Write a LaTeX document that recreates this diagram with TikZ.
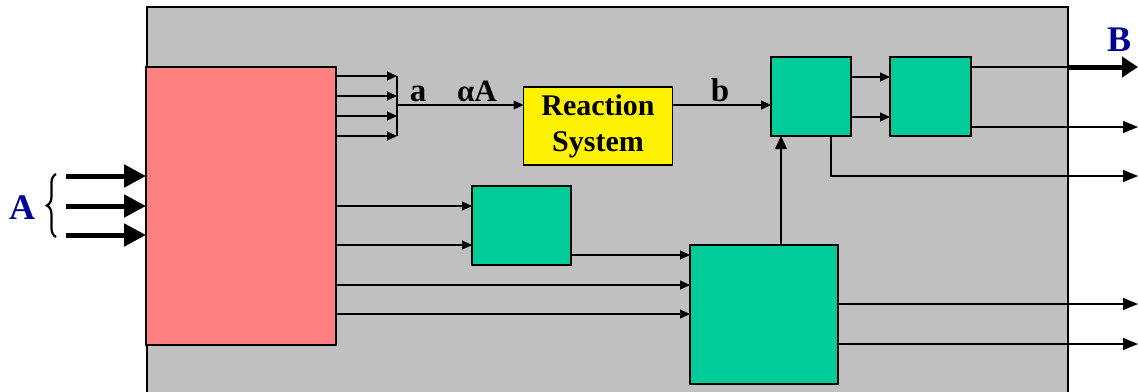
\documentclass[tikz,border=0pt]{standalone}
\usepackage{fontspec}
\setmainfont{Liberation Serif}
\usetikzlibrary{arrows.meta,decorations.pathreplacing,calc}
\definecolor{panelgray}{HTML}{C0C0C0}
\definecolor{blockpink}{HTML}{FF8080}
\definecolor{blockgreen}{HTML}{00CC99}
\definecolor{labelblue}{HTML}{000099}

\begin{document}
\begin{tikzpicture}[x=1pt, y=-1pt, line join=miter,
  block/.style={draw=black, line width=1.5pt, inner sep=0pt, outer sep=0pt},
  arr/.style={line width=1.2pt, -{Triangle[length=10pt,width=9pt]}},
  outarr/.style={line width=1.2pt, -{Triangle[length=15pt,width=12pt]}},
  fatarr/.style={line width=5pt, -{Triangle[length=22pt,width=22pt]}},
  biglabel/.style={font=\fontsize{36}{40}\selectfont\bfseries, text=labelblue},
  flowlabel/.style={font=\fontsize{33}{38}\selectfont\bfseries, anchor=base}]
\clip (0,0) rectangle (1138,391);
% grey system boundary
\draw[fill=panelgray, line width=1.5pt] (147,7) rectangle (1068,400);

% blocks
\node[block, fill=blockpink, minimum width=190pt, minimum height=278pt] (src) at (241,206) {};
\node[block, fill=yellow, minimum width=149pt, minimum height=78pt, align=center,
      font=\fontsize{30}{36}\selectfont\bfseries] (rs) at (598,126) {Reaction\\System};
\node[block, fill=blockgreen, minimum width=80pt, minimum height=79pt] (mixa) at (811,96.5) {};
\node[block, fill=blockgreen, minimum width=81pt, minimum height=79pt] (mixb) at (930.5,96.5) {};
\node[block, fill=blockgreen, minimum width=99pt, minimum height=79pt] (pre) at (521.5,225.5) {};
\node[block, fill=blockgreen, minimum width=148pt, minimum height=139pt] (proc) at (764,314.5) {};

% feed A
\foreach \yy [count=\i] in {176,206,235} {
  \coordinate (in\i) at (66,\yy);
  \draw[fatarr] (in\i) -- (src.west |- in\i);
}
\draw[line width=2.2pt, decorate, decoration={brace, amplitude=9pt}] (56,237) -- (56,174);
\node[biglabel] (lblA) at (22,208) {A};

% collecting bus towards the reactor
\foreach \yy [count=\i] in {76,96,116,136} {
  \coordinate (bus\i) at (397,\yy);
  \draw[arr] (src.east |- bus\i) -- (bus\i);
}
\draw[line width=1.2pt] (bus1) -- (bus4);
\coordinate (busout) at (397,105);
\draw[arr] (busout) -- (rs.west |- busout);
\node[flowlabel] (lbla) at (418,101) {a};
\node[flowlabel, font=\fontsize{31}{36}\selectfont\bfseries] (lblalpha) at (477,101) {αA};
\draw[arr] (rs.east |- busout) -- (mixa.west |- busout);
\node[flowlabel] (lblb) at (720,101) {b};

% upper separation train
\foreach \yy in {77,117}
  \draw[arr] (mixa.east |- 0,\yy) -- (mixb.west |- 0,\yy);
\coordinate (outB) at (1068,67);
\coordinate (endB) at (1138,67);
\draw[line width=1.2pt] (mixb.east |- outB) -- (outB);
\draw[line width=5pt, -{Triangle[length=16pt,width=20pt]}] (outB) -- (endB);
\node[biglabel] (lblB) at (1119,40) {B};
\coordinate (end2) at (1138,127);
\draw[outarr] (mixb.east |- end2) -- (end2);
\coordinate (tap) at ($(mixa.south)+(20,0)$);
\coordinate (end3) at (1138,176);
\draw[outarr] (tap) |- (end3);

% lower branch
\foreach \yy in {206,245}
  \draw[arr] (src.east |- 0,\yy) -- (pre.west |- 0,\yy);
\draw[arr] (pre.east |- 0,255) -- (proc.west |- 0,255);
\foreach \yy in {285,314}
  \draw[arr] (src.east |- 0,\yy) -- (proc.west |- 0,\yy);
\coordinate (fb) at ($(proc.north)+(17,0)$);
\draw[line width=1.2pt, -{Triangle[length=13pt,width=12pt]}] (fb) -- (fb |- mixa.south);
\foreach \yy [count=\i] in {304,344} {
  \coordinate (low\i) at (1138,\yy);
  \draw[outarr] (proc.east |- low\i) -- (low\i);
}
\end{tikzpicture}
\end{document}
